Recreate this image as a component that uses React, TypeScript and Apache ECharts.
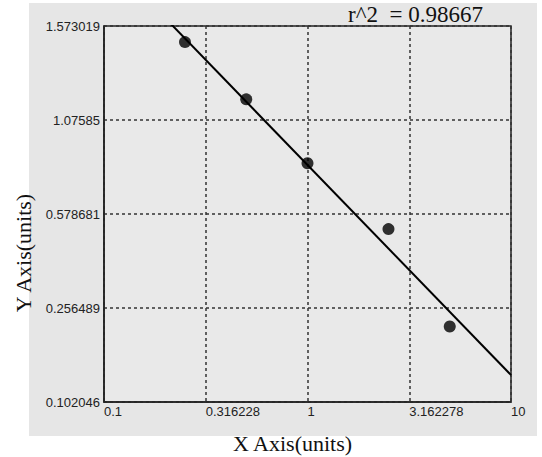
import React, { useEffect, useRef } from "react";
import * as echarts from "echarts";

// Tick labels
const xTickValues = [0.1, 0.316228, 1, 3.162278, 10];
const xTickLabels = ["0.1", "0.316228", "1", "3.162278", "10"];
const yTickValues = [0.102046, 0.256489, 0.578681, 1.07585, 1.573019];
const yTickLabels = ["0.102046", "0.256489", "0.578681", "1.07585", "1.573019"];

// Data points
const xData = [0.25, 0.5, 1, 2.5, 5];
const yData = [1.488, 1.185, 0.847, 0.527, 0.226];

// Fit line (in the chart's y-axis scale units, against log10 x)
const fitIntercept = 2.522;
const fitSlope = -2.235;
const fitXs = [0.1, 10];

const r2Text = "r^2  = 0.98667";

// y axis spacing is equal between the listed tick values
function yToPos(v: number): number {
  const t = yTickValues;
  for (let i = 0; i < t.length - 1; i++) {
    if (v <= t[i + 1] || i === t.length - 2) {
      return i + (v - t[i]) / (t[i + 1] - t[i]);
    }
  }
  return 0;
}

export default function App() {
  const ref = useRef<HTMLDivElement>(null);
  useEffect(() => {
    document.body.style.margin = "0";
    if (!ref.current) return;
    const chart = echarts.init(ref.current, null, { renderer: "svg" });
    const points = xData.map((x, i) => [x, yToPos(yData[i])]);
    const fit = fitXs.map((x) => [x, fitIntercept + fitSlope * Math.log10(x)]);
    chart.setOption({
      animation: false,
      backgroundColor: "#ffffff",
      graphic: [
        {
          type: "rect",
          z: -10,
          silent: true,
          shape: { x: 29, y: 3, width: 508, height: 433 },
          style: { fill: "#e6e6e6" },
        },
      ],
      title: {
        text: r2Text,
        left: 343,
        top: -2,
        textStyle: {
          fontFamily: "Liberation Serif",
          fontSize: 23,
          fontWeight: "normal",
          color: "#111",
        },
      },
      grid: {
        left: 104,
        top: 26,
        right: 31,
        bottom: 55,
        outerBoundsMode: "none",
        containLabel: false,
        show: true,
        backgroundColor: "#e9e9e9",
        borderColor: "#222",
        borderWidth: 1.5,
      },
      xAxis: {
        type: "log",
        logBase: 10,
        min: 0.1,
        max: 10,
        interval: 0.5,
        name: "X Axis(units)",
        nameLocation: "middle",
        nameGap: 30,
        nameTextStyle: {
          fontFamily: "Liberation Serif",
          fontSize: 22,
          color: "#111",
          padding: [0, 30, 0, 0],
        },
        axisLine: { show: true, lineStyle: { color: "#222", width: 1.5 } },
        axisTick: { show: false },
        axisLabel: {
          fontFamily: "Liberation Sans",
          fontSize: 13,
          color: "#222",
          margin: 3,
          align: "left",
          formatter: (v: number) => {
            let best = 0;
            for (let i = 1; i < xTickValues.length; i++) {
              if (Math.abs(Math.log10(xTickValues[i]) - Math.log10(v)) < Math.abs(Math.log10(xTickValues[best]) - Math.log10(v))) best = i;
            }
            return xTickLabels[best];
          },
        },
        splitLine: {
          show: true,
          lineStyle: { color: "#333", width: 1.5, type: [3, 3] },
        },
      },
      yAxis: {
        type: "value",
        min: 0,
        max: 4,
        interval: 1,
        name: "Y Axis(units)",
        nameLocation: "middle",
        nameGap: 68,
        nameRotate: 90,
        nameTextStyle: {
          fontFamily: "Liberation Serif",
          fontSize: 22,
          color: "#111",
          padding: [0, 78, 0, 0],
        },
        axisLine: { show: true, lineStyle: { color: "#222", width: 1.5 } },
        axisTick: { show: false },
        axisLabel: {
          fontFamily: "Liberation Sans",
          fontSize: 13,
          color: "#222",
          margin: 4,
          formatter: (v: number) => yTickLabels[Math.round(v)] ?? "",
        },
        splitLine: {
          show: true,
          lineStyle: { color: "#333", width: 1.5, type: [3, 3] },
        },
      },
      series: [
        {
          type: "line",
          data: fit,
          symbol: "none",
          clip: true,
          lineStyle: { color: "#000", width: 2 },
          z: 2,
        },
        {
          type: "scatter",
          data: points,
          symbol: "circle",
          symbolSize: 12,
          itemStyle: { color: "#000" },
          z: 3,
        },
      ],
    });
    return () => chart.dispose();
  }, []);
  return <div ref={ref} style={{ width: 542, height: 457 }} />;
}
